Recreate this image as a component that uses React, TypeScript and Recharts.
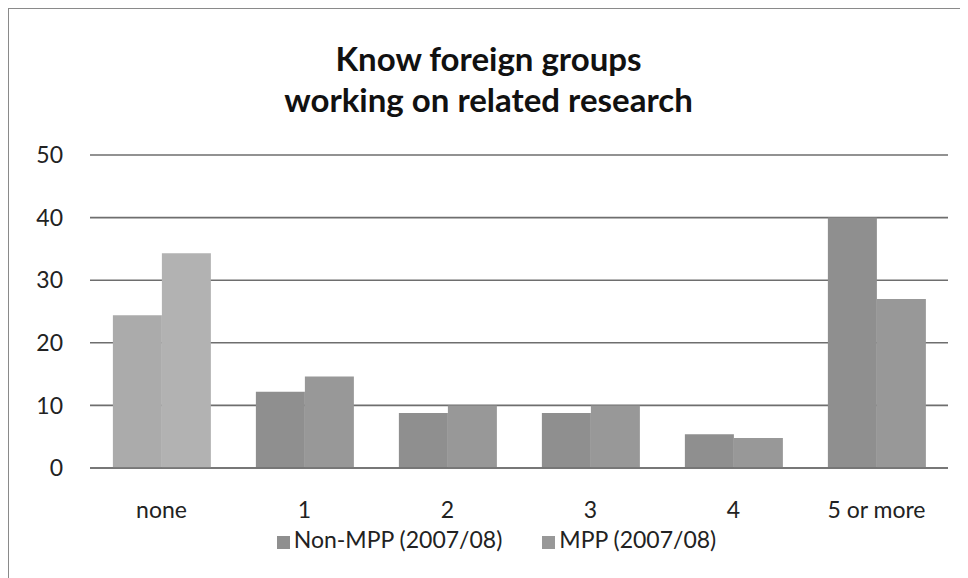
import { BarChart, Bar, XAxis, YAxis, CartesianGrid, Legend, Cell } from 'recharts';

const categories = ['none', '1', '2', '3', '4', '5 or more'];
const nonMpp = [24.4, 12.2, 8.8, 8.8, 5.4, 40];
const mpp = [34.3, 14.6, 10, 10, 4.8, 27];
const yTicks = [0, 10, 20, 30, 40, 50];

const data = categories.map((c, i) => ({ name: c, nonMpp: nonMpp[i], mpp: mpp[i] }));

const FONT = 'Lato, "Open Sans", sans-serif';
const seriesOrder: Record<string, number> = { nonMpp: 0, mpp: 1 };

export default function App() {
  return (
    <div
      style={{
        position: 'relative',
        width: 959,
        height: 569,
        borderTop: '1px solid #8a8a8a',
        borderLeft: '1px solid #8a8a8a',
        background: '#fff',
        fontFamily: FONT,
      }}
    >
      <div
        style={{
          position: 'absolute',
          top: 29,
          left: 0,
          width: 959,
          textAlign: 'center',
          fontSize: 33,
          fontWeight: 700,
          lineHeight: '41px',
          color: '#111',
        }}
      >
        Know foreign groups
        <br />
        working on related research
      </div>
      <BarChart
        width={959}
        height={569}
        data={data}
        margin={{ top: 146, right: 20, bottom: 42, left: 51 }}
        barCategoryGap="16%"
        barGap={0}
      >
        <CartesianGrid vertical={false} stroke="#6e6e6e" strokeWidth={1.6} />
        <XAxis
          dataKey="name"
          axisLine={{ stroke: '#6e6e6e', strokeWidth: 1.6 }}
          tickLine={false}
          tickMargin={28}
          tick={{ fill: '#222', fontSize: 23, fontFamily: FONT }}
          height={40}
        />
        <YAxis
          domain={[0, 50]}
          ticks={yTicks}
          axisLine={false}
          tickLine={false}
          tickSize={0}
          tickMargin={27}
          width={30}
          tick={{ fill: '#222', fontSize: 23, fontFamily: FONT }}
        />
        <Legend
          verticalAlign="bottom"
          iconType="square"
          iconSize={13}
          itemSorter={(item: any) => seriesOrder[item.dataKey] ?? 0}
          wrapperStyle={{ top: 516, left: 28, width: 959, fontSize: 23, fontFamily: FONT }}
          formatter={(value) => <span style={{ color: '#222', marginRight: 30 }}>{value}</span>}
        />
        <Bar dataKey="nonMpp" name="Non-MPP (2007/08)" fill="#8f8f8f" isAnimationActive={false}>
          {data.map((d, i) => (
            <Cell key={d.name} fill={i === 0 ? '#ababab' : '#8f8f8f'} />
          ))}
        </Bar>
        <Bar dataKey="mpp" name="MPP (2007/08)" fill="#989898" isAnimationActive={false}>
          {data.map((d, i) => (
            <Cell key={d.name} fill={i === 0 ? '#b2b2b2' : '#989898'} />
          ))}
        </Bar>
      </BarChart>
    </div>
  );
}
